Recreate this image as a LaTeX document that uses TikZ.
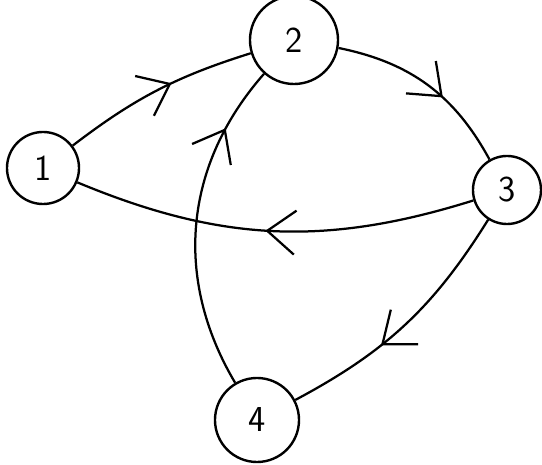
\documentclass[tikz,border=0pt]{standalone}
\usepackage{tikz}
\usetikzlibrary{arrows.meta,decorations.markings}

\begin{document}
\begin{tikzpicture}[
    x=0.025cm, y=-0.025cm,
    state/.style={draw=black, circle, line width=1.7pt, inner sep=0pt,
                fill=white, font=\fontsize{26}{30}\selectfont\sffamily},
    edge/.style={line width=1.6pt, bend left=#1},
    midarrow/.style={postaction={decorate},
                decoration={markings,
                  mark=at position #1 with {\arrow{Straight Barb[length=7mm, width=11mm, line width=1.6pt]}}}}
  ]
    \useasboundingbox (0,0) rectangle (542,465);

    % Nodes
    \node[state, minimum size=1.8cm] (one)   at (43, 168)  {1};
    \node[state, minimum size=2.2cm] (two)   at (294, 40)  {2};
    \node[state, minimum size=1.7cm] (three) at (507, 190) {3};
    \node[state, minimum size=2.1cm] (four)  at (257, 420) {4};

    % Edges
    \draw[edge=10, midarrow=0.58] (one)   to (two);
    \draw[edge=25, midarrow=0.6]  (two)   to (three);
    \draw[edge=20, midarrow=0.52] (three) to (one);
    \draw[edge=36, midarrow=0.8]  (four)  to (two);
    \draw[edge=15, midarrow=0.62] (three) to (four);
  \end{tikzpicture}
\end{document}
